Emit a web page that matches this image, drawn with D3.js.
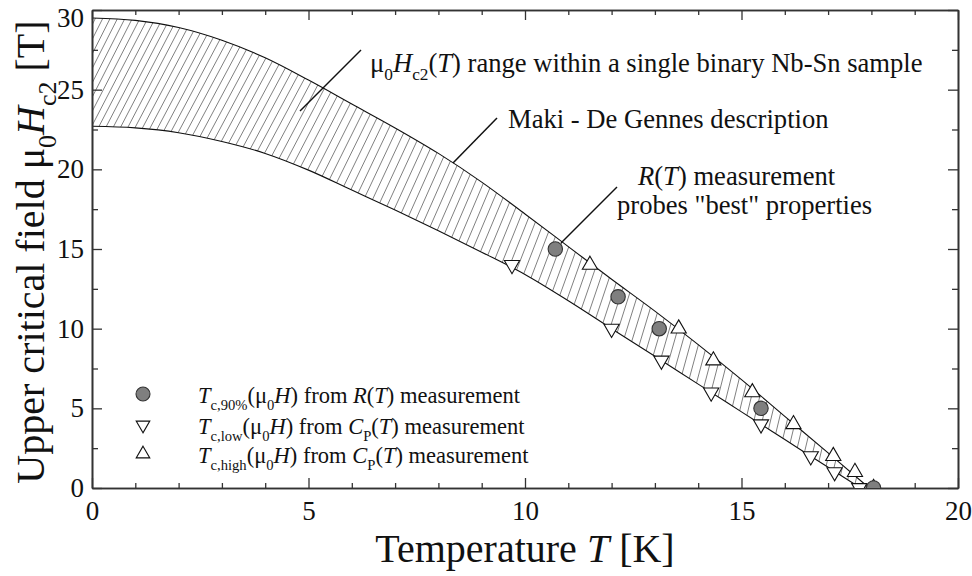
<!DOCTYPE html>
<html>
<head>
<meta charset="utf-8">
<script src="https://cdn.jsdelivr.net/npm/d3@7"></script>
<style>
  body { margin: 0; background: #fff; }
  svg { display: block; }
  text { font-family: 'Liberation Serif', Tinos, 'Times New Roman', Times, 'Nimbus Roman', serif; fill: #111; }
</style>
</head>
<body>
<svg id="chart" width="972" height="576"></svg>
<script>
// Axis ticks
const temperatureTicks = [0, 5, 10, 15, 20];
const temperatureMinor = [1, 2, 3, 4, 6, 7, 8, 9, 11, 12, 13, 14, 16, 17, 18, 19];
const fieldTicks = [0, 5, 10, 15, 20, 25, 30];
const fieldMinor = [2.5, 7.5, 12.5, 17.5, 22.5, 27.5];

// Upper edge of the Hc2(T) band (Maki - De Gennes, highest Tc)
const upperT = [0, 1, 2, 3, 4, 5, 6, 7, 8, 9, 10, 11, 12, 13, 14, 15, 16, 17, 17.95];
const upperH = [29.5, 29.35, 28.9, 28.1, 27.0, 25.6, 24.1, 22.6, 21.0, 19.2, 17.2, 15.15, 13.1, 11.1, 9.0, 6.8, 4.5, 2.2, 0];

// Lower edge of the band (lowest Tc)
const lowerT = [0, 1, 2, 3, 4, 5, 6, 7, 8, 9, 10, 11, 12, 13, 14, 15, 16, 17, 17.75];
const lowerH = [22.7, 22.6, 22.3, 21.75, 21.0, 19.95, 18.7, 17.45, 16.15, 14.8, 13.4, 11.75, 10.0, 8.27, 6.52, 4.78, 3.04, 1.3, 0];

// Tc,90%(mu0 H) from R(T)
const resistT = [10.7, 12.15, 13.1, 15.45, 18.05];
const resistH = [15, 12, 10, 5, 0];

// Tc,low(mu0 H) from Cp(T)
const lowT = [9.7, 12.0, 13.15, 14.3, 15.45, 16.6, 17.15, 17.72];
const lowH = [14, 10, 8, 6, 4, 2, 1, 0];

// Tc,high(mu0 H) from Cp(T)
const highT = [11.5, 13.55, 14.35, 15.25, 16.2, 17.12, 17.62, 18.05];
const highH = [14, 10, 8, 6, 4, 2, 1, 0];

const serif = "'Liberation Serif', Tinos, 'Times New Roman', Times, 'Nimbus Roman', serif";
const svg = d3.select("#chart");
const x = d3.scaleLinear().domain([0, 20]).range([92, 958]);
const y = d3.scaleLinear().domain([0, 30]).range([488, 10]);

const axisColor = "#333";

// clip to plot area
const defs = svg.append("defs");
defs.append("clipPath").attr("id", "plotClip")
  .append("rect").attr("x", x(0)).attr("y", y(30)).attr("width", x(20) - x(0)).attr("height", y(0) - y(30));

const upperPts = upperT.map((t, i) => [x(t), y(upperH[i])]);
const lowerPts = lowerT.map((t, i) => [x(t), y(lowerH[i])]);
const curve = d3.line().curve(d3.curveMonotoneX);
const bandPath = curve(upperPts) + "L" + curve(lowerPts.slice().reverse()).slice(1) + "Z";

defs.append("clipPath").attr("id", "bandClip").append("path").attr("d", bandPath);

function interp(ts, hs, t) {
  if (t <= ts[0]) return hs[0];
  if (t >= ts[ts.length - 1]) return hs[hs.length - 1];
  const i = d3.bisectRight(ts, t) - 1;
  const f = (t - ts[i]) / (ts[i + 1] - ts[i]);
  return hs[i] + f * (hs[i + 1] - hs[i]);
}

// hatching inside the band
const hatch = svg.append("g").attr("clip-path", "url(#bandClip)");
const hatchSegs = [];
for (let px = x(-3); px <= x(18.3); px += 7.2) {
  const t = x.invert(px);
  const yl = y(interp(lowerT, lowerH, t));
  const hpx = yl - y(interp(upperT, upperH, t));
  const f = Math.max(0.2, 0.5 - 0.02 * Math.max(0, t));
  const xu = px + f * Math.max(hpx, 0);
  const yu = y(interp(upperT, upperH, x.invert(xu)));
  const dx = xu - px, dy = yu - yl;
  const len = Math.hypot(dx, dy) || 1;
  const e = 4;
  hatchSegs.push([px - dx / len * e, yl - dy / len * e, xu + dx / len * e, yu + dy / len * e]);
}
hatch.selectAll("line").data(hatchSegs).join("line")
  .attr("x1", d => d[0]).attr("y1", d => d[1]).attr("x2", d => d[2]).attr("y2", d => d[3])
  .attr("stroke", "#808080").attr("stroke-width", 1);

// band edges
svg.append("path").attr("d", curve(upperPts)).attr("fill", "none").attr("stroke", "#111").attr("stroke-width", 1.1);
svg.append("path").attr("d", curve(lowerPts)).attr("fill", "none").attr("stroke", "#111").attr("stroke-width", 1.1);

// axes (frame with inward ticks)
function styleAxis(g) {
  g.attr("font-family", serif);
  g.selectAll("path.domain").attr("stroke", axisColor).attr("stroke-width", 1.6);
  g.selectAll(".tick line").attr("stroke", axisColor).attr("stroke-width", 1.3);
  g.selectAll(".tick text").attr("fill", "#111").style("font-family", serif).style("font-size", "27px");
}
const gB = svg.append("g").attr("transform", `translate(0,${y(0)})`)
  .call(d3.axisBottom(x).tickValues(temperatureTicks).tickSizeInner(-10).tickSizeOuter(0).tickPadding(13).tickFormat(d3.format("d")));
styleAxis(gB);
const gBm = svg.append("g").attr("transform", `translate(0,${y(0)})`)
  .call(d3.axisBottom(x).tickValues(temperatureMinor).tickSizeInner(-5).tickSizeOuter(0).tickFormat(""));
styleAxis(gBm);
const gT = svg.append("g").attr("transform", `translate(0,${y(30)})`)
  .call(d3.axisTop(x).tickValues(temperatureTicks).tickSizeInner(-10).tickSizeOuter(0).tickFormat(""));
styleAxis(gT);
const gTm = svg.append("g").attr("transform", `translate(0,${y(30)})`)
  .call(d3.axisTop(x).tickValues(temperatureMinor).tickSizeInner(-5).tickSizeOuter(0).tickFormat(""));
styleAxis(gTm);
const gL = svg.append("g").attr("transform", `translate(${x(0)},0)`)
  .call(d3.axisLeft(y).tickValues(fieldTicks).tickSizeInner(-10).tickSizeOuter(0).tickPadding(8).tickFormat(d3.format("d")));
styleAxis(gL);
// keep the top label inside the page
gL.selectAll(".tick text").filter(d => d === 30).attr("dy", "0.6em");
const gLm = svg.append("g").attr("transform", `translate(${x(0)},0)`)
  .call(d3.axisLeft(y).tickValues(fieldMinor).tickSizeInner(-6).tickSizeOuter(0).tickFormat(""));
styleAxis(gLm);
const gR = svg.append("g").attr("transform", `translate(${x(20)},0)`)
  .call(d3.axisRight(y).tickValues(fieldTicks).tickSizeInner(-10).tickSizeOuter(0).tickFormat(""));
styleAxis(gR);
const gRm = svg.append("g").attr("transform", `translate(${x(20)},0)`)
  .call(d3.axisRight(y).tickValues(fieldMinor).tickSizeInner(-6).tickSizeOuter(0).tickFormat(""));
styleAxis(gRm);

// markers
const markers = svg.append("g").attr("clip-path", "url(#plotClip)");
const triSize = 100;
markers.selectAll("path.low").data(lowT.map((t, i) => [t, lowH[i]])).join("path")
  .attr("class", "low")
  .attr("d", d3.symbol(d3.symbolTriangle, triSize))
  .attr("transform", d => `translate(${x(d[0])},${y(d[1])}) rotate(180)`)
  .attr("fill", "#fff").attr("stroke", "#111").attr("stroke-width", 1.1);
markers.selectAll("path.high").data(highT.map((t, i) => [t, highH[i]])).join("path")
  .attr("class", "high")
  .attr("d", d3.symbol(d3.symbolTriangle, triSize))
  .attr("transform", d => `translate(${x(d[0])},${y(d[1])})`)
  .attr("fill", "#fff").attr("stroke", "#111").attr("stroke-width", 1.1);
markers.selectAll("circle").data(resistT.map((t, i) => [t, resistH[i]])).join("circle")
  .attr("cx", d => x(d[0])).attr("cy", d => y(d[1])).attr("r", 7.2)
  .attr("fill", "#7f7f7f").attr("stroke", "#333").attr("stroke-width", 1.1);

// rich text helper: segments [text, kind] where kind: n normal, i italic, s subscript
function rich(sel, segs, size) {
  sel.attr("font-family", serif).attr("font-size", size);
  const sub = 0.3 * size;
  let shifted = false;
  segs.forEach(([t, k]) => {
    const ts = sel.append("tspan").text(t);
    const isSub = k === "s";
    if (isSub && !shifted) { ts.attr("dy", sub); shifted = true; }
    else if (!isSub && shifted) { ts.attr("dy", -sub); shifted = false; }
    if (isSub) ts.attr("font-size", size * 0.65);
    if (k === "i") ts.attr("font-style", "italic");
  });
}

// axis titles
const xt = svg.append("text").attr("x", 525).attr("y", 562).attr("text-anchor", "middle");
rich(xt, [["Temperature ", "n"], ["T", "i"], [" [K]", "n"]], 40);

const yt = svg.append("text").attr("transform", "translate(44,252) rotate(-90)").attr("text-anchor", "middle");
rich(yt, [["Upper critical field μ", "n"], ["0", "s"], ["H", "i"], ["c2", "s"], [" [T]", "n"]], 40);

// annotations with leader lines
const leaders = [
  [[361, 50], [300, 111]],
  [[497, 118], [453, 163]],
  [[617, 187], [561, 243]]
];
svg.selectAll("line.leader").data(leaders).join("line").attr("class", "leader")
  .attr("x1", d => d[0][0]).attr("y1", d => d[0][1]).attr("x2", d => d[1][0]).attr("y2", d => d[1][1])
  .attr("stroke", "#111").attr("stroke-width", 1.5);

const annSize = 26.6;
const a1 = svg.append("text").attr("x", 370).attr("y", 72);
rich(a1, [["μ", "n"], ["0", "s"], ["H", "i"], ["c2", "s"], ["(", "n"], ["T", "i"], [") range within a single binary Nb-Sn sample", "n"]], annSize);

const a2 = svg.append("text").attr("x", 508).attr("y", 128);
rich(a2, [["Maki - De Gennes description", "n"]], annSize);

const a3 = svg.append("text").attr("x", 638).attr("y", 184.5);
rich(a3, [["R", "i"], ["(", "n"], ["T", "i"], [") measurement", "n"]], annSize);
const a4 = svg.append("text").attr("x", 617).attr("y", 214);
rich(a4, [["probes \"best\" properties", "n"]], annSize);

// legend
const legend = svg.append("g");
const legendRows = [
  { kind: "circle", y: 394, segs: [["T", "i"], ["c,90%", "s"], ["(μ", "n"], ["0", "s"], ["H", "i"], [") from ", "n"], ["R", "i"], ["(", "n"], ["T", "i"], [") measurement", "n"]] },
  { kind: "low", y: 425, segs: [["T", "i"], ["c,low", "s"], ["(μ", "n"], ["0", "s"], ["H", "i"], [") from ", "n"], ["C", "i"], ["P", "s"], ["(", "n"], ["T", "i"], [") measurement", "n"]] },
  { kind: "high", y: 454, segs: [["T", "i"], ["c,high", "s"], ["(μ", "n"], ["0", "s"], ["H", "i"], [") from ", "n"], ["C", "i"], ["P", "s"], ["(", "n"], ["T", "i"], [") measurement", "n"]] }
];
legendRows.forEach(r => {
  if (r.kind === "circle") {
    legend.append("circle").attr("cx", 143).attr("cy", r.y).attr("r", 7)
      .attr("fill", "#7f7f7f").attr("stroke", "#333").attr("stroke-width", 1.1);
  } else {
    legend.append("path").attr("d", d3.symbol(d3.symbolTriangle, 80))
      .attr("transform", `translate(143,${r.y}) rotate(${r.kind === "low" ? 180 : 0})`)
      .attr("fill", "#fff").attr("stroke", "#111").attr("stroke-width", 1.1);
  }
  const t = legend.append("text").attr("x", 198).attr("y", r.y + 9);
  rich(t, r.segs, 22.5);
});
</script>
</body>
</html>
